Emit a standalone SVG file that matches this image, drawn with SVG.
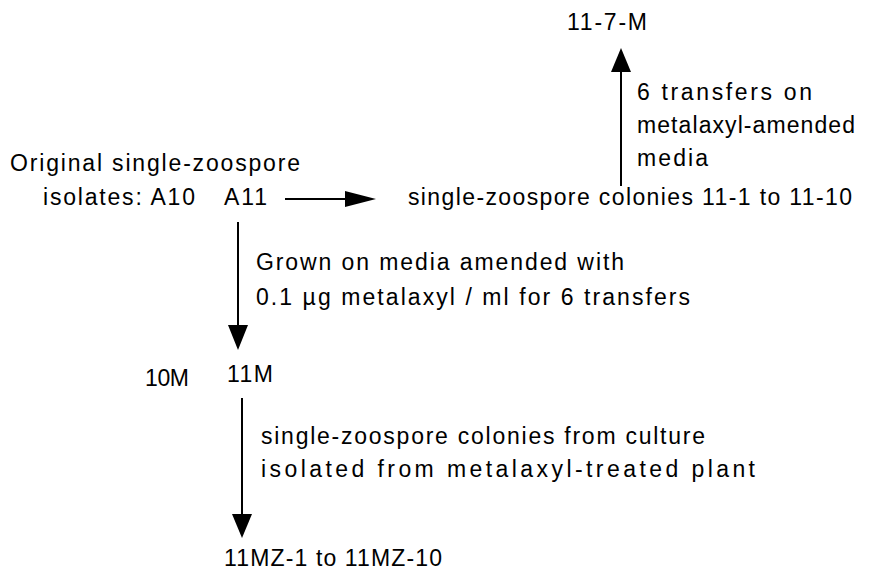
<svg xmlns="http://www.w3.org/2000/svg" width="881" height="572" viewBox="0 0 881 572">
<style>
text{font-family:"Liberation Sans",Arial,sans-serif;font-size:23px;fill:#000}
.ln{stroke:#000;stroke-width:2;fill:none}
.hd{fill:#000;stroke:none}
</style>
<rect width="881" height="572" fill="#fff"/>
<g id="n-117m"><text x="567" y="30" textLength="80" lengthAdjust="spacing">11-7-M</text></g>
<g id="n-orig">
<text x="10" y="171" textLength="290" lengthAdjust="spacing">Original single-zoospore</text>
<text x="43" y="205" textLength="152" lengthAdjust="spacing">isolates: A10</text>
</g>
<g id="n-a11"><text x="224" y="205" textLength="43" lengthAdjust="spacing">A11</text></g>
<g id="n-colonies"><text x="408" y="205" textLength="444" lengthAdjust="spacing">single-zoospore colonies 11-1 to 11-10</text></g>
<g id="n-10m"><text x="145" y="386" textLength="44" lengthAdjust="spacing">10M</text></g>
<g id="n-11m"><text x="227" y="382" textLength="46" lengthAdjust="spacing">11M</text></g>
<g id="n-11mz"><text x="224" y="566" textLength="218" lengthAdjust="spacing">11MZ-1 to 11MZ-10</text></g>
<g id="connectors">
<line class="ln" x1="621" y1="186" x2="621" y2="68"/>
<polygon class="hd" points="621,48 611,72 631,72"/>
<line class="ln" x1="285" y1="199" x2="350" y2="199"/>
<polygon class="hd" points="376,199 345,191 345,207"/>
<line class="ln" x1="238" y1="222" x2="238" y2="330"/>
<polygon class="hd" points="238,350 228,325 248,325"/>
<line class="ln" x1="242" y1="398" x2="242" y2="518"/>
<polygon class="hd" points="242,538 232,514 252,514"/>
</g>
<g id="labels">
<text x="637" y="100" textLength="175" lengthAdjust="spacing">6 transfers on</text>
<text x="637" y="133" textLength="218" lengthAdjust="spacing">metalaxyl-amended</text>
<text x="637" y="166" textLength="71" lengthAdjust="spacing">media</text>
<text x="256" y="270" textLength="368" lengthAdjust="spacing">Grown on media amended with</text>
<text x="256" y="305" textLength="434" lengthAdjust="spacing">0.1 µg metalaxyl / ml for 6 transfers</text>
<text x="261" y="444" textLength="444" lengthAdjust="spacing">single-zoospore colonies from culture</text>
<text x="261" y="477" textLength="494" lengthAdjust="spacing">isolated from metalaxyl-treated plant</text>
</g>
</svg>
